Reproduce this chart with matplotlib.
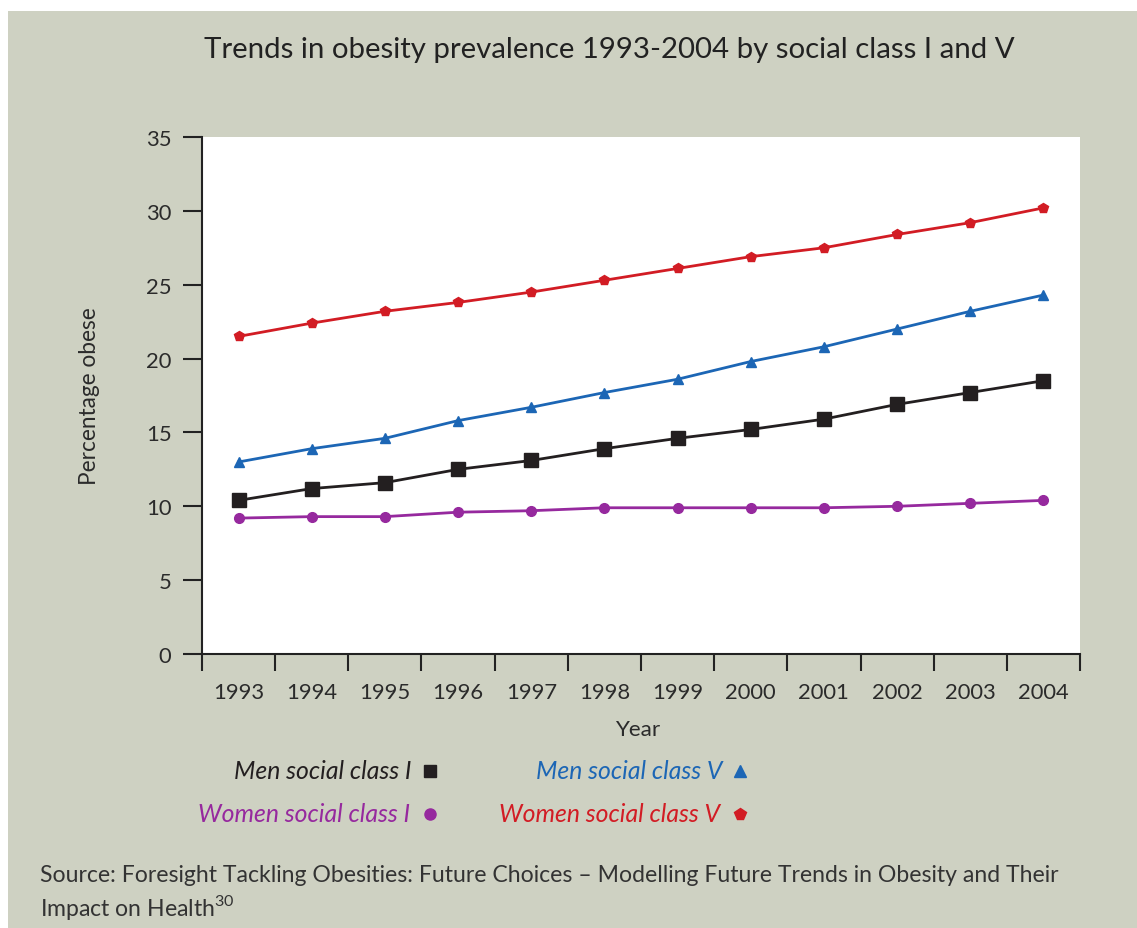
import matplotlib
matplotlib.use("Agg")
import matplotlib.pyplot as plt
from matplotlib.lines import Line2D
from matplotlib.patches import Rectangle

plt.rcParams['font.family'] = ['Lato', 'DejaVu Sans']
plt.rcParams['mathtext.fontset'] = 'custom'
plt.rcParams['mathtext.rm'] = 'Lato'

years = ["1993", "1994", "1995", "1996", "1997", "1998",
         "1999", "2000", "2001", "2002", "2003", "2004"]
men_class_1 = [10.4, 11.2, 11.6, 12.5, 13.1, 13.9, 14.6, 15.2, 15.9, 16.9, 17.7, 18.5]
men_class_5 = [13.0, 13.9, 14.6, 15.8, 16.7, 17.7, 18.6, 19.8, 20.8, 22.0, 23.2, 24.3]
women_class_1 = [9.2, 9.3, 9.3, 9.6, 9.7, 9.9, 9.9, 9.9, 9.9, 10.0, 10.2, 10.4]
women_class_5 = [21.5, 22.4, 23.2, 23.8, 24.5, 25.3, 26.1, 26.9, 27.5, 28.4, 29.2, 30.2]
y_ticks = [0, 5, 10, 15, 20, 25, 30, 35]

BG = "#CED1C2"
TEXT = "#2b2b2b"
C_MEN1 = "#231f20"
C_MEN5 = "#1c66b5"
C_WOM1 = "#96299e"
C_WOM5 = "#d21c24"

W, H = 1137, 929
fig = plt.figure(figsize=(W / 100, H / 100), dpi=100, facecolor="white")
fig.add_artist(Rectangle((8 / W, 0), 1, 1 - 12 / H, transform=fig.transFigure,
                         facecolor=BG, edgecolor="none", zorder=-10))

ax = fig.add_axes([202 / W, 1 - 655 / H, (1080 - 202) / W, (655 - 138) / H])
ax.set_facecolor("white")

x = list(range(len(years)))
series = [
    (men_class_1, C_MEN1, "s", 9.5),
    (men_class_5, C_MEN5, "^", 7),
    (women_class_1, C_WOM1, "o", 7),
    (women_class_5, C_WOM5, "p", 7),
]
for vals, col, mk, ms in series:
    ax.plot(x, vals, color=col, lw=2, marker=mk, markersize=ms,
            markerfacecolor=col, markeredgecolor=col, clip_on=False)

ax.set_xlim(-0.5, len(years) - 0.5)
ax.set_ylim(0, 35)
ax.set_yticks(y_ticks)
ax.set_yticklabels([str(v) for v in y_ticks])
ax.set_xticks([i - 0.5 for i in range(len(years) + 1)])
ax.set_xticklabels([])
ax.set_xticks(x, minor=True)
ax.set_xticklabels(years, minor=True)
ax.tick_params(axis="x", which="major", direction="out", length=12, width=1.5, color="#222222")
ax.tick_params(axis="x", which="minor", length=0, pad=20, labelsize=15.8, labelcolor=TEXT)
ax.tick_params(axis="y", direction="out", length=14, width=1.5, color="#222222",
               labelsize=15.8, labelcolor=TEXT, pad=8)
for s in ("top", "right"):
    ax.spines[s].set_visible(False)
for s in ("left", "bottom"):
    ax.spines[s].set_linewidth(1.5)
    ax.spines[s].set_color("#222222")

ax.set_xlabel("Year", fontsize=16.2, color=TEXT)
ax.xaxis.set_label_coords((638 - 202) / (1080 - 202), -(730 - 655) / (655 - 138))
ax.xaxis.label.set_va("center")
ax.set_ylabel("Percentage obese", fontsize=16.3, color=TEXT)
ax.yaxis.set_label_coords(-(202 - 90) / (1080 - 202), 0.5)
ax.yaxis.label.set_va("center")

fig.text(609 / W, 1 - 50 / H, "Trends in obesity prevalence 1993-2004 by social class I and V",
         ha="center", va="center", fontsize=21.2, color="#222222")

# legend: italic labels followed by their marker
legend_rows = [
    ("Men social class I", C_MEN1, "s", 412, 430, 772, 9),
    ("Men social class V", C_MEN5, "^", 722, 740, 772, 8),
    ("Women social class I", C_WOM1, "o", 410, 430, 815, 8),
    ("Women social class V", C_WOM5, "p", 720, 740, 815, 8.5),
]
for label, col, mk, tx, mx, yy, ms in legend_rows:
    fig.text(tx / W, 1 - yy / H, label, ha="right", va="center", fontsize=17.8,
             style="italic", color=col)
    fig.add_artist(Line2D([mx / W], [1 - yy / H], transform=fig.transFigure,
                          marker=mk, markersize=ms, color=col, linestyle="none"))

fig.text(40 / W, 1 - 876 / H,
         "Source: Foresight Tackling Obesities: Future Choices \u2013 Modelling Future Trends in Obesity and Their",
         ha="left", va="center", fontsize=16.6, color="#333333")
fig.text(40 / W, 1 - 908 / H, "Impact on Health$^{30}$",
         ha="left", va="center", fontsize=16.6, color="#333333")

fig.savefig("out.png", dpi=100, facecolor=fig.get_facecolor())
